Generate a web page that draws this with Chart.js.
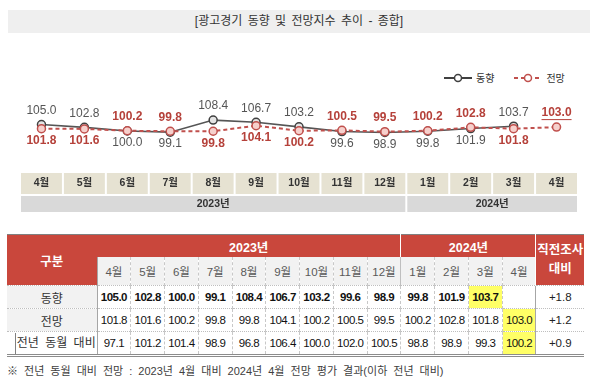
<!DOCTYPE html>
<html lang="ko">
<head>
<meta charset="utf-8">
<script src="https://cdn.jsdelivr.net/npm/chart.js@4.4.1/dist/chart.umd.min.js"></script>
<style>
  html, body { margin: 0; padding: 0; background: #fff; }
  body { width: 600px; height: 386px; position: relative; overflow: hidden;
         font-family: 'Liberation Sans', 'Noto Sans CJK KR', sans-serif; color: #333; }
  #title { position: absolute; left: 8px; top: 10px; width: 582px; height: 23px; line-height: 23px;
           background: #efefef; text-align: center; font-size: 12px; color: #333; word-spacing: 2px; }
  #legend { position: absolute; top: 70px; left: 444px; font-size: 10px; color: #333; display: flex; }
  #legend .item { display: flex; align-items: center; margin-right: 20px; }
  #legend svg { margin-right: 4px; }
  #chartBox { position: absolute; left: 0; top: 40px; width: 600px; height: 175px; }
  #tbl { position: absolute; left: 7px; top: 234px; border-collapse: collapse; table-layout: fixed;
         width: 577px; font-size: 11px; }
  #tbl td { padding: 0; text-align: center; white-space: nowrap; overflow: hidden; }
  #tbl tr.h1 td { height: 22px; background: #c9473c; color: #fff; font-weight: bold; font-size: 12.5px; }
  #tbl tr.h1 { border-top: 1px solid #808080; }
  #tbl td.gubun { background: #c9473c; color: #fff; font-weight: bold; font-size: 12.5px; }
  #tbl td.prev { background: #6d6d6d; color: #fff; font-weight: bold; font-size: 12px; line-height: 19px;
                 border-left: 1px solid #fff; }
  #tbl td.y24 { border-left: 1px solid #fff; }
  #tbl tr.h2 td.m { height: 28px; background: #f2f2f2; color: #595959; font-size: 11.5px;
                    border-left: 1px dashed #c8c8c8; }
  #tbl tr.h2 td.m.first { border-left: 1px solid #a6a6a6; }
  #tbl tr.h2 td.m.s24 { border-left: 1px solid #bfbfbf; }
  #tbl tr.d td { height: 22px; border-left: 1px dashed #c8c8c8; border-top: 1px dotted #bfbfbf;
                 letter-spacing: -0.5px; color: #111; font-size: 11.5px; }
  #tbl tr.d td.lab { background: #f2f2f2; font-size: 12px; letter-spacing: 0; color: #333; border-left: none; }
  #tbl tr.d td.first { border-left: 1px solid #a6a6a6; }
  #tbl tr.d td.chg { border-left: 1px solid #a6a6a6; letter-spacing: 0; font-size: 11.5px; color: #222; }
  #tbl tr.bold td.v { font-weight: bold; }
  #tbl tr.last { border-bottom: 3px double #8c8c8c; }
  #tbl tr.last td.lab { background: #fff; }
  #tbl tr.last td.lab div { margin-left: 8px; border-left: 1px solid #808080; height: 21px; line-height: 21px;
                            word-spacing: 3px; }
  #tbl td.hl { background: #ffff66; }
  #note { position: absolute; left: 7px; top: 362px; font-size: 11px; color: #404040; word-spacing: 3px; }
</style>
</head>
<body>
<div id="title">[광고경기 동향 및 전망지수 추이 - 종합]</div>
<div id="legend">
  <div class="item">
    <svg width="28" height="10"><line x1="0" y1="5" x2="28" y2="5" stroke="#404040" stroke-width="2"/><circle cx="14" cy="5" r="3.5" fill="#fff" stroke="#404040" stroke-width="1.5"/></svg>
    <span>동향</span>
  </div>
  <div class="item">
    <svg width="28" height="10"><line x1="0" y1="5" x2="28" y2="5" stroke="#c0504d" stroke-width="2" stroke-dasharray="4,3"/><circle cx="14" cy="5" r="3.5" fill="#fff" stroke="#c0504d" stroke-width="1.5"/></svg>
    <span>전망</span>
  </div>
</div>
<div id="chartBox"><canvas id="chart"></canvas></div>
<table id="tbl"></table>
<div id="note">※ 전년 동월 대비 전망 : 2023년 4월 대비 2024년 4월 전망 평가 결과(이하 전년 대비)</div>

<script>
// 데이터
const months = ['4월', '5월', '6월', '7월', '8월', '9월', '10월', '11월', '12월', '1월', '2월', '3월', '4월'];
const monthYears = ['2023년', '2023년', '2023년', '2023년', '2023년', '2023년', '2023년', '2023년', '2023년',
                    '2024년', '2024년', '2024년', '2024년'];
const dongHyang = [105.0, 102.8, 100.0, 99.1, 108.4, 106.7, 103.2, 99.6, 98.9, 99.8, 101.9, 103.7, null];
const jeonMang = [101.8, 101.6, 100.2, 99.8, 99.8, 104.1, 100.2, 100.5, 99.5, 100.2, 102.8, 101.8, 103.0];
const jeonNyeon = [97.1, 101.2, 101.4, 98.9, 96.8, 106.4, 100.0, 102.0, 100.5, 98.8, 98.9, 99.3, 100.2];
const vsPrevSurvey = ['+1.8', '+1.2', '+0.9'];

const FONT = "'Liberation Sans', 'Noto Sans CJK KR', sans-serif";
Chart.defaults.font.family = FONT;

// 월 칸 + 연도 띠 (x축 눈금 위치 기준)
const monthBoxes = {
    id: 'monthBoxes',
    beforeDraw(chart) {
        const ctx = chart.ctx;
        const x = chart.scales.x;
        const half = (x.getPixelForValue(1) - x.getPixelForValue(0)) / 2;
        ctx.save();
        months.forEach((m, i) => {
            const cx = x.getPixelForValue(i);
            ctx.fillStyle = '#e6e2d2';
            ctx.fillRect(cx - half + 1, 133, half * 2 - 2, 21);
        });
        let start = 0;
        for (let i = 1; i <= monthYears.length; i++) {
            if (i === monthYears.length || monthYears[i] !== monthYears[start]) {
                const l = x.getPixelForValue(start) - half + 1;
                const r = x.getPixelForValue(i - 1) + half - 1;
                ctx.fillStyle = '#d9d9d9';
                ctx.fillRect(l, 156, r - l, 16);
                ctx.fillStyle = '#333';
                ctx.font = 'bold 10.5px ' + FONT;
                ctx.textAlign = 'center';
                ctx.textBaseline = 'middle';
                ctx.fillText(monthYears[start], (l + r) / 2, 164.5);
                start = i;
            }
        }
        ctx.restore();
    }
};

// 값 라벨: 두 값 중 큰 쪽은 위, 작은 쪽은 아래
const valueLabels = {
    id: 'valueLabels',
    afterDatasetsDraw(chart) {
        const ctx = chart.ctx;
        ctx.save();
        ctx.textAlign = 'center';
        ctx.textBaseline = 'middle';
        chart.data.datasets.forEach((ds, di) => {
            const other = chart.data.datasets[1 - di].data;
            const meta = chart.getDatasetMeta(di);
            ds.data.forEach((v, i) => {
                if (v === null) return;
                const pt = meta.data[i];
                const o = other[i];
                const above = (o === null || v >= o);
                const y = above ? pt.y - 14 : pt.y + 12;
                ctx.font = (ds.labelBold ? 'bold ' : '') + '12px ' + FONT;
                ctx.fillStyle = ds.labelColor;
                const txt = v.toFixed(1);
                ctx.fillText(txt, pt.x, y);
                if (o === null) {
                    const w = ctx.measureText(txt).width;
                    ctx.fillRect(pt.x - w / 2, y + 6, w, 1);
                }
            });
        });
        ctx.restore();
    }
};

new Chart(document.getElementById('chart'), {
    type: 'line',
    data: {
        labels: months,
        datasets: [
            {
                label: '전망', data: jeonMang,
                borderColor: '#c0504d', borderWidth: 2, borderDash: [4, 3],
                pointBackgroundColor: '#f6d0cc', pointBorderColor: '#c0504d', pointBorderWidth: 1.5,
                pointRadius: 4, labelColor: '#b5413a', labelBold: true
            },
            {
                label: '동향', data: dongHyang,
                borderColor: '#555', borderWidth: 1.6,
                pointBackgroundColor: '#e4e4e4', pointBorderColor: '#404040', pointBorderWidth: 1.5,
                pointRadius: 4, labelColor: '#555', labelBold: false
            }
        ]
    },
    options: {
        responsive: true,
        maintainAspectRatio: false,
        animation: false,
        layout: { padding: { top: 65, left: 20, right: 22, bottom: 0 } },
        plugins: { legend: { display: false }, tooltip: { enabled: false } },
        scales: {
            x: {
                offset: true,
                grid: { display: false, drawTicks: false },
                border: { display: false },
                ticks: { autoSkip: false, maxRotation: 0, padding: 7, color: '#333',
                         font: { size: 10.5, weight: 'bold' } },
                afterFit(s) { s.height = 45; }
            },
            y: { display: false, min: 70, max: 120 }
        }
    },
    plugins: [monthBoxes, valueLabels]
});

// 표
const tbl = document.getElementById('tbl');
let html = '<colgroup><col style="width:90px">';
months.forEach(() => { html += '<col style="width:33.77px">'; });
html += '<col style="width:48px"></colgroup>';

const n23 = monthYears.filter(y => y === '2023년').length;
const n24 = monthYears.length - n23;
html += '<tr class="h1"><td class="gubun" rowspan="2">구분</td>' +
        '<td colspan="' + n23 + '">2023년</td><td class="y24" colspan="' + n24 + '">2024년</td>' +
        '<td class="prev" rowspan="2">직전조사<br>대비</td></tr>';
html += '<tr class="h2">' + months.map((m, i) => {
    let c = 'm';
    if (i === 0) c += ' first';
    if (i === n23) c += ' s24';
    return '<td class="' + c + '">' + m + '</td>';
}).join('') + '</tr>';

const rows = [
    { name: '동향', vals: dongHyang, cls: 'd bold' },
    { name: '전망', vals: jeonMang, cls: 'd' },
    { name: '전년 동월 대비', vals: jeonNyeon, cls: 'd last' }
];
rows.forEach((r, ri) => {
    let lastIdx = -1;
    r.vals.forEach((v, i) => { if (v !== null) lastIdx = i; });
    html += '<tr class="' + r.cls + '"><td class="lab">' + (ri === 2 ? '<div>' + r.name + '</div>' : r.name) + '</td>';
    r.vals.forEach((v, i) => {
        let c = 'v';
        if (i === 0) c += ' first';
        if (i === lastIdx) c += ' hl';
        html += '<td class="' + c + '">' + (v === null ? '' : v.toFixed(1)) + '</td>';
    });
    html += '<td class="chg">' + vsPrevSurvey[ri] + '</td></tr>';
});
tbl.innerHTML = html;
</script>
</body>
</html>
